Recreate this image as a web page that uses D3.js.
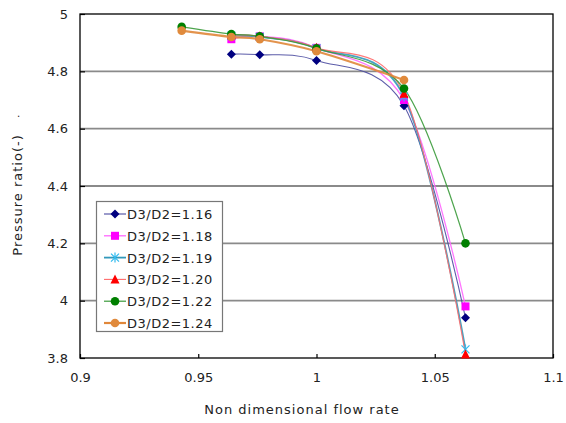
<!DOCTYPE html>
<html>
<head>
<meta charset="utf-8">
<script src="https://cdn.jsdelivr.net/npm/d3@7"></script>
<style>
  html, body { margin: 0; padding: 0; background: #fff; }
  svg { display: block; }
  text { font-family: "DejaVu Sans", Arial, sans-serif; fill: #222; }
</style>
</head>
<body>
<svg id="chart" width="566" height="423"></svg>
<script>
// Flow rate samples (non-dimensional)
const flowRates = [0.943, 0.964, 0.976, 1.0, 1.037, 1.063];

// Pressure ratio per diffuser ratio D3/D2 (null = not measured)
const seriesNames = ["D3/D2=1.16", "D3/D2=1.18", "D3/D2=1.19", "D3/D2=1.20", "D3/D2=1.22", "D3/D2=1.24"];
const pr116 = [null, 4.860, 4.858, 4.838, 4.680, 3.940];
const pr118 = [null, 4.912, 4.922, 4.882, 4.700, 3.980];
const pr119 = [null, 4.924, 4.920, 4.880, 4.712, 3.830];
const pr120 = [null, 4.926, 4.922, 4.882, 4.722, 3.812];
const pr122 = [4.955, 4.930, 4.922, 4.880, 4.740, 4.200];
const pr124 = [4.942, 4.920, 4.912, 4.870, 4.770, null];

const xTicks = [0.9, 0.95, 1, 1.05, 1.1];
const yTicks = [3.8, 4, 4.2, 4.4, 4.6, 4.8, 5];

const styles = [
  { marker: "diamond",  fill: "#000080", line: "#4a4aa0", width: 1.1 },
  { marker: "square",   fill: "#ff00ff", line: "#ff66ff", width: 1.3 },
  { marker: "asterisk", fill: "#33bbee", line: "#3399bb", width: 1.8 },
  { marker: "triangle", fill: "#ff0000", line: "#ff6a6a", width: 1.1 },
  { marker: "circle",   fill: "#008000", line: "#3a9a3a", width: 1.2 },
  { marker: "circle",   fill: "#e08a3c", line: "#e0873a", width: 2.2 }
];
const allSeries = [pr116, pr118, pr119, pr120, pr122, pr124];

const svg = d3.select("#chart");
const L = 80, R = 553, T = 14, B = 358;
const FONT = 13;

const x = d3.scaleLinear().domain([0.9, 1.1]).range([L, R]);
const y = d3.scaleLinear().domain([3.8, 5]).range([B, T]);

// Horizontal gridlines
svg.append("g").selectAll("line").data(yTicks.filter(v => v > 3.8 && v < 5)).join("line")
  .attr("x1", L).attr("x2", R)
  .attr("y1", d => y(d)).attr("y2", d => y(d))
  .attr("stroke", "#8a8a8a").attr("stroke-width", 1.8);

// Axes with small inward ticks
const xAxis = d3.axisBottom(x).tickValues(xTicks).tickSize(-4).tickPadding(15)
  .tickFormat(d => String(d));
const yAxis = d3.axisLeft(y).tickValues(yTicks).tickSize(-5).tickPadding(12)
  .tickFormat(d => String(d));

const gx = svg.append("g").attr("transform", `translate(0,${B})`).call(xAxis);
const gy = svg.append("g").attr("transform", `translate(${L},0)`).call(yAxis);
[gx, gy].forEach(g => {
  g.select(".domain").remove();
  g.selectAll(".tick line").attr("stroke", "#000").attr("stroke-width", 1.2);
  g.selectAll(".tick text").attr("font-size", FONT).attr("fill", "#222")
    .style("font-family", "'DejaVu Sans', Arial, sans-serif");
});

// Plot frame
svg.append("rect").attr("x", L).attr("y", T).attr("width", R - L).attr("height", B - T)
  .attr("fill", "none").attr("stroke", "#000").attr("stroke-width", 1.3);

// Smoothed series lines
const lineGen = d3.line()
  .defined(d => d[1] != null)
  .x(d => x(d[0])).y(d => y(d[1]))
  .curve(d3.curveCatmullRom.alpha(0));

const plot = svg.append("g");
allSeries.forEach((vals, i) => {
  const pts = flowRates.map((f, j) => [f, vals[j]]).filter(p => p[1] != null);
  plot.append("path").datum(pts)
    .attr("d", lineGen)
    .attr("fill", "none")
    .attr("stroke", styles[i].line)
    .attr("stroke-width", styles[i].width)
    .attr("stroke-opacity", 0.9);
});

function drawMarker(g, type, cx, cy, color) {
  if (type === "diamond") {
    g.append("path").attr("d", `M${cx},${cy - 4.5}L${cx + 4.5},${cy}L${cx},${cy + 4.5}L${cx - 4.5},${cy}Z`).attr("fill", color);
  } else if (type === "square") {
    g.append("rect").attr("x", cx - 4).attr("y", cy - 4).attr("width", 8).attr("height", 8).attr("fill", color);
  } else if (type === "triangle") {
    g.append("path").attr("d", `M${cx},${cy - 5}L${cx + 4.5},${cy + 4}L${cx - 4.5},${cy + 4}Z`).attr("fill", color);
  } else if (type === "circle") {
    g.append("circle").attr("cx", cx).attr("cy", cy).attr("r", 4.3).attr("fill", color);
  } else if (type === "asterisk") {
    const s = 4;
    g.append("path")
      .attr("d", `M${cx - s},${cy - s}L${cx + s},${cy + s}M${cx - s},${cy + s}L${cx + s},${cy - s}M${cx},${cy - s - 1}L${cx},${cy + s + 1}`)
      .attr("stroke", color).attr("stroke-width", 1.2).attr("fill", "none");
  }
}

allSeries.forEach((vals, i) => {
  const g = plot.append("g");
  flowRates.forEach((f, j) => {
    if (vals[j] != null) drawMarker(g, styles[i].marker, x(f), y(vals[j]), styles[i].fill);
  });
});

// Legend
const lg = svg.append("g");
lg.append("rect").attr("x", 96.5).attr("y", 201.5).attr("width", 126).attr("height", 130)
  .attr("fill", "#fff").attr("stroke", "#777").attr("stroke-width", 1.2);
seriesNames.forEach((name, i) => {
  const cy = 214 + i * 21.8;
  lg.append("line").attr("x1", 104).attr("x2", 126).attr("y1", cy).attr("y2", cy)
    .attr("stroke", styles[i].line).attr("stroke-width", styles[i].width);
  drawMarker(lg, styles[i].marker, 115, cy, styles[i].fill);
  lg.append("text").attr("x", 127).attr("y", cy + 5).attr("font-size", FONT)
    .attr("letter-spacing", 0.5).text(name);
});

// Axis titles
svg.append("text").attr("x", 302).attr("y", 414).attr("text-anchor", "middle")
  .attr("font-size", FONT).attr("letter-spacing", 1).text("Non dimensional flow rate");
svg.append("text").attr("transform", "translate(22,195) rotate(-90)").attr("text-anchor", "middle")
  .attr("font-size", FONT).attr("letter-spacing", 1).text("Pressure ratio(-)");
svg.append("text").attr("x", 17).attr("y", 117).attr("font-size", 10).text(".");
</script>
</body>
</html>
